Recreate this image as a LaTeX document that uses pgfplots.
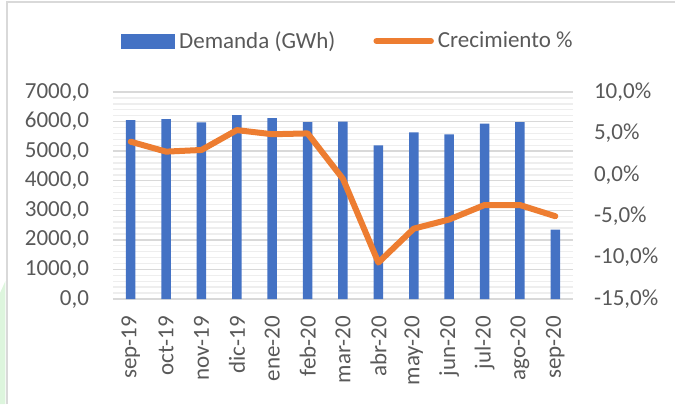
\documentclass[border=0pt]{standalone}
\usepackage{fontspec}
\setmainfont{Carlito}
\usepackage{pgfplots}
\pgfplotsset{compat=1.18}
\definecolor{barblue}{HTML}{4472C4}
\definecolor{lineorange}{HTML}{ED7D31}
\definecolor{txtgray}{HTML}{595959}
\definecolor{gridmaj}{HTML}{D9D9D9}
\definecolor{gridmin}{HTML}{EEEEEE}
\definecolor{frame}{HTML}{D9D9D9}
\definecolor{leafgreen}{HTML}{DDF5DD}
\begin{document}
\begin{tikzpicture}
\useasboundingbox (-56.5pt,-52.5pt) rectangle (281pt,149.5pt);
\fill[leafgreen] (-56.5pt,-52.5pt) -- (-53.8pt,-52.5pt) -- (-53.8pt,9pt) -- (-56.5pt,3pt) -- cycle;
\draw[frame, line width=0.9pt] (-53pt,-52.5pt) -- (-53pt,148.5pt) -- (281pt,148.5pt);
\pgfplotsset{
  every axis/.append style={
    scale only axis, width=230pt, height=103.5pt,
    xmin=-0.5, xmax=12.5,
    font=\fontsize{11.5}{13.8}\selectfont, 
    tick label style={text=txtgray},
    major tick length=0pt, minor tick length=0pt,
    /pgf/number format/assume math mode=true,
  }
}
\begin{axis}[
  ymin=0, ymax=7000, ytick={0,1000,...,7000},
  minor y tick num=4,
  ymajorgrids, yminorgrids,
  major grid style={gridmaj, line width=0.7pt},
  minor grid style={gridmin, line width=0.7pt},
  axis x line*=bottom, axis y line*=left,
  y axis line style={draw=none},
  x axis line style={draw=gridmaj, line width=0.8pt, -},
  yticklabel style={xshift=-8.5pt, /pgf/number format/fixed, /pgf/number format/fixed zerofill, /pgf/number format/precision=1, /pgf/number format/use comma, /pgf/number format/1000 sep={}},
  xtick={0,...,12},
  xticklabels={sep-19,oct-19,nov-19,dic-19,ene-20,feb-20,mar-20,abr-20,may-20,jun-20,jul-20,ago-20,sep-20},
  xticklabel style={rotate=90, anchor=east, xshift=-5pt},
]
\addplot[ybar, bar width=4.75pt, fill=barblue, draw=none] coordinates {
(0,6053) (1,6087) (2,5975) (3,6222) (4,6121) (5,5986) (6,5998)
(7,5198) (8,5637) (9,5569) (10,5929) (11,5986) (12,2345)
};
\end{axis}
\begin{axis}[
  ymin=-15, ymax=10, ytick={-15,-10,...,10},
  axis x line=none, axis y line*=right,
  y axis line style={draw=none},
  yticklabel={\pgfmathprintnumber[fixed, fixed zerofill, precision=1, use comma]{\tick}\%},
  yticklabel style={xshift=7pt},
  legend style={at={(0.513,1.246)}, anchor=center, draw=none, fill=none,
    legend columns=2, text=txtgray, font=\fontsize{11.5}{13.8}\selectfont,
    /tikz/every even column/.append style={column sep=17pt},
    legend cell align=left, inner sep=0pt},
]
\addlegendimage{legend image code/.code={\fill[barblue] (0pt,-3.5pt) rectangle (26.5pt,3.5pt);}}
\addlegendentry{Demanda (GWh)}
\addplot[lineorange, line width=3pt, line cap=round, line join=round,
  legend image code/.code={\draw[lineorange, line width=3pt, line cap=round] (0.75pt,0pt) -- (28pt,0pt);}] coordinates {
(0,4.0) (1,2.8) (2,3.0) (3,5.4) (4,4.9) (5,5.0) (6,-0.5)
(7,-10.6) (8,-6.5) (9,-5.4) (10,-3.65) (11,-3.65) (12,-5.0)
};
\addlegendentry{Crecimiento \%}
\end{axis}
\end{tikzpicture}
\end{document}
